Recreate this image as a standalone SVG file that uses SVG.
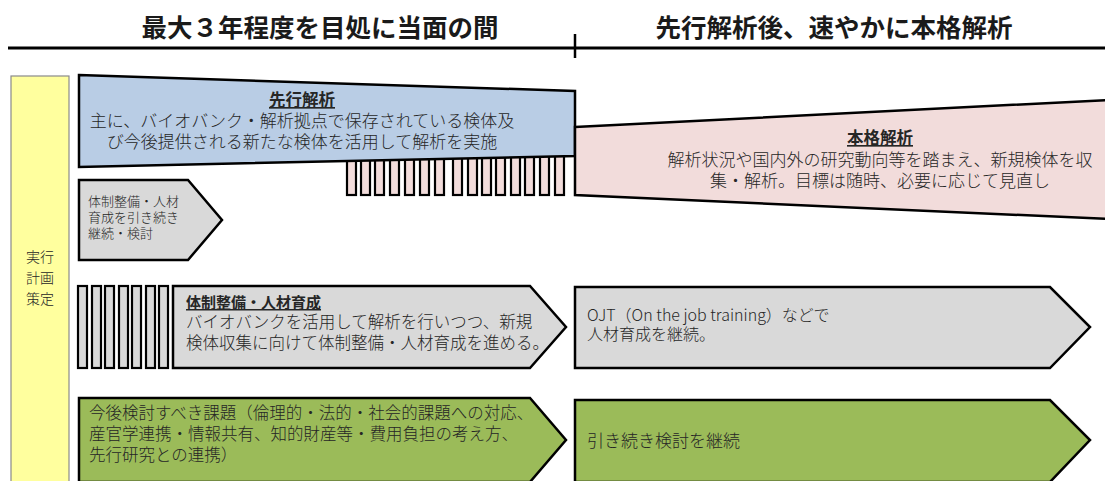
<svg xmlns="http://www.w3.org/2000/svg" width="1105" height="481" viewBox="0 0 1105 481">
<style>
text{font-family:"Noto Sans CJK JP","Noto Sans",sans-serif;fill:#262626;font-weight:300}
.h{font-size:25.5px;font-weight:bold;text-anchor:middle;fill:#1a1a1a}
.t{font-size:16.5px}
.s{font-size:13px}
.b{font-weight:bold;text-decoration:underline}
.c{text-anchor:middle}
.sh{stroke:#000;stroke-width:2.5;stroke-linejoin:miter}
.blue{fill:#B9CDE5}
.pink{fill:#F2DCDB}
.gray{fill:#D9D9D9}
.green{fill:#9BBB59}
.st{stroke:#000;stroke-width:2.2}
</style>
<rect width="1105" height="481" fill="#fff"/>
<g id="header">
<line x1="8" y1="48" x2="1105" y2="48" stroke="#000" stroke-width="3"/>
<line x1="575" y1="34" x2="575" y2="58" stroke="#000" stroke-width="2.5"/>
<text class="h" x="320" y="37">最大３年程度を目処に当面の間</text>
<text class="h" x="834" y="37">先行解析後、速やかに本格解析</text>
</g>
<g id="plan">
<rect x="11" y="76" width="58" height="406" fill="#FFFF9E" stroke="#8a8a8a" stroke-width="1.2"/>
<text class="c" x="40" y="262" style="font-size:14px">実行</text>
<text class="c" x="40" y="283" style="font-size:14px">計画</text>
<text class="c" x="40" y="304" style="font-size:14px">策定</text>
</g>
<g id="connectors">
<g class="pink st">
<rect x="347" y="150" width="9" height="45"/>
<rect x="361" y="150" width="9" height="45"/>
<rect x="375" y="150" width="9" height="45"/>
<rect x="390" y="150" width="9" height="45"/>
<rect x="405" y="150" width="9" height="45"/>
<rect x="420" y="150" width="9" height="45"/>
<rect x="435" y="150" width="9" height="45"/>
<rect x="453" y="150" width="9" height="45"/>
<rect x="468" y="150" width="9" height="45"/>
<rect x="482" y="150" width="9" height="45"/>
<rect x="496" y="150" width="9" height="45"/>
<rect x="511" y="150" width="9" height="45"/>
<rect x="525" y="150" width="9" height="45"/>
<rect x="540" y="150" width="9" height="45"/>
<rect x="555" y="150" width="9" height="45"/>
</g>
<g class="gray st">
<rect x="78" y="286" width="9" height="82"/>
<rect x="92" y="286" width="9" height="82"/>
<rect x="105" y="286" width="9" height="82"/>
<rect x="119" y="286" width="9" height="82"/>
<rect x="132" y="286" width="9" height="82"/>
<rect x="146" y="286" width="9" height="82"/>
<rect x="159" y="286" width="9" height="82"/>
</g>
</g>
<g id="senko">
<polygon class="sh blue" points="79,75 575,91 575,156 79,167"/>
<text class="t c b" x="302" y="106">先行解析</text>
<text class="t c" x="302" y="127" style="font-size:17px">主に、バイオバンク・解析拠点で保存されている検体及</text>
<text class="t c" x="302" y="148" style="font-size:17px">び今後提供される新たな検体を活用して解析を実施</text>
</g>
<g id="honkaku">
<polygon class="sh pink" points="575,127 1108,100 1108,219 575,195"/>
<text class="t c b" x="880" y="144">本格解析</text>
<text class="t c" x="880" y="166" style="font-size:17px">解析状況や国内外の研究動向等を踏まえ、新規検体を収</text>
<text class="t c" x="880" y="187" style="font-size:17px">集・解析。目標は随時、必要に応じて見直し</text>
</g>
<g id="keizoku">
<polygon class="sh gray" points="79,180 188,180 222,220 188,260 79,260"/>
<text class="s" x="88" y="206">体制整備・人材</text>
<text class="s" x="88" y="222">育成を引き続き</text>
<text class="s" x="88" y="238">継続・検討</text>
</g>
<g id="taisei">
<polygon class="sh gray" points="173,286 530,286 566,327 530,368 173,368"/>
<text class="t b" x="186" y="308" style="font-size:15px">体制整備・人材育成</text>
<text class="t" x="186" y="328">バイオバンクを活用して解析を行いつつ、新規</text>
<text class="t" x="186" y="349">検体収集に向けて体制整備・人材育成を進める。</text>
</g>
<g id="ojt">
<polygon class="sh gray" points="575,287 1050,287 1090,327 1050,368 575,368"/>
<text class="t" x="587" y="321" style="font-size:16px">OJT（On the job training）などで</text>
<text class="t" x="587" y="340" style="font-size:16px">人材育成を継続。</text>
</g>
<g id="kadai">
<polygon class="sh green" points="79,398 530,398 566,440 530,482 79,482"/>
<text class="t" x="89" y="419">今後検討すべき課題（倫理的・法的・社会的課題への対応、</text>
<text class="t" x="89" y="440">産官学連携・情報共有、知的財産等・費用負担の考え方、</text>
<text class="t" x="89" y="461">先行研究との連携）</text>
</g>
<g id="kento">
<polygon class="sh green" points="575,400 1050,400 1090,440 1050,482 575,482"/>
<text class="t" x="587" y="447" style="font-size:17px">引き続き検討を継続</text>
</g>
</svg>
